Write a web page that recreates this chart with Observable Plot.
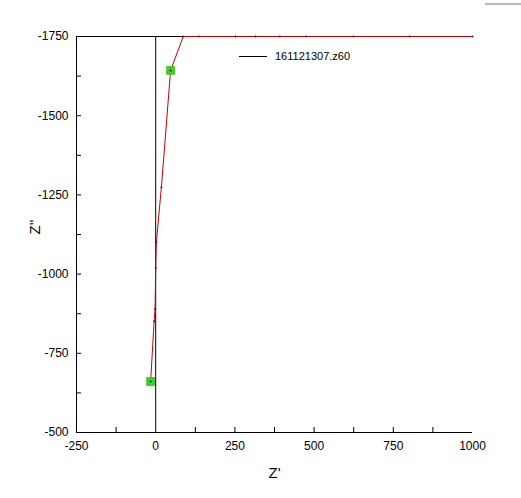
<!DOCTYPE html>
<html>
<head>
<meta charset="utf-8">
<script src="https://cdn.jsdelivr.net/npm/d3@7"></script>
<script src="https://cdn.jsdelivr.net/npm/@observablehq/plot@0.6"></script>
<style>
  html, body { margin: 0; padding: 0; background: #fff; }
  #wrap { position: relative; width: 521px; height: 498px; font-family: "Liberation Sans", Arial, sans-serif; }
  #legend { position: absolute; left: 239px; top: 50px; font-size: 11px; display: flex; align-items: center; color: #000; }
  #legend .sw { width: 28px; height: 0; border-top: 1px solid #000; margin-right: 8px; }
  #corner { position: absolute; left: 485px; top: 3px; width: 36px; height: 0; border-top: 2px solid #b8b8b8; }
</style>
</head>
<body>
<div id="wrap">
  <div id="chart"></div>
  <div id="legend"><span class="sw"></span><span>161121307.z60</span></div>
  <div id="corner"></div>
</div>
<script>
// Impedance data (Z', Z'')
const zReal = [-16, -5, -2, 0, 2, 18, 47, 87, 136, 252, 315, 392, 475, 625, 802, 1000];
const zImag = [-661, -851, -890, -1020, -1100, -1274, -1643, -1750, -1750, -1750, -1750, -1750, -1750, -1750, -1750, -1750];
// highlighted markers
const markReal = [-16, 47];
const markImag = [-661, -1643];

const xMajor = [-250, 0, 250, 500, 750, 1000];
const xMinor = [-125, 125, 375, 625, 875];
const yMajor = [-500, -750, -1000, -1250, -1500, -1750];
const yMinor = [-625, -875, -1125, -1375, -1625];

const pts = zReal.map((x, i) => ({x, y: zImag[i]}));
const marks = markReal.map((x, i) => ({x, y: markImag[i]}));
const fmt = d => String(d);

const chart = Plot.plot({
  width: 521,
  height: 498,
  marginLeft: 76,
  marginRight: 49,
  marginTop: 36,
  marginBottom: 66,
  style: {fontFamily: "Liberation Sans, Arial, sans-serif", fontSize: "12px", color: "#000", background: "#fff"},
  x: {domain: [-250, 1000]},
  y: {domain: [-500, -1750]},
  marks: [
    Plot.axisX({ticks: xMajor.concat(xMinor).filter(d => d !== 0 && d !== -250 && d !== 1000), tickSize: -5, tickFormat: () => "", label: null}),
    Plot.axisX({ticks: xMajor, tickSize: 0, tickPadding: 9, fontSize: 12, tickFormat: fmt, label: null}),
    Plot.axisY({ticks: yMajor.concat(yMinor).filter(d => d !== -500 && d !== -1750), tickSize: -5, tickFormat: () => "", label: null}),
    Plot.axisY({ticks: yMajor, tickSize: 0, tickPadding: 8, fontSize: 12, tickFormat: fmt, label: null}),
    Plot.text(["Z'"], {frameAnchor: "bottom", dy: 41, fontSize: 15, lineAnchor: "middle"}),
    Plot.text(["Z''"], {frameAnchor: "left", dx: -41, rotate: -90, fontSize: 15}),
    Plot.ruleX([-250, 0], {stroke: "#000"}),
    Plot.ruleY([-500, -1750], {stroke: "#000"}),
    Plot.line(pts, {x: "x", y: "y", stroke: "#c80000", strokeWidth: 1}),
    Plot.dot(marks, {x: "x", y: "y", symbol: "square", r: 4.4, fill: "#33d633", stroke: "#5cb82a", strokeWidth: 1}),
    Plot.dot(pts, {x: "x", y: "y", r: 1, fill: "#202060"})
  ]
});
document.getElementById("chart").appendChild(chart);
</script>
</body>
</html>
